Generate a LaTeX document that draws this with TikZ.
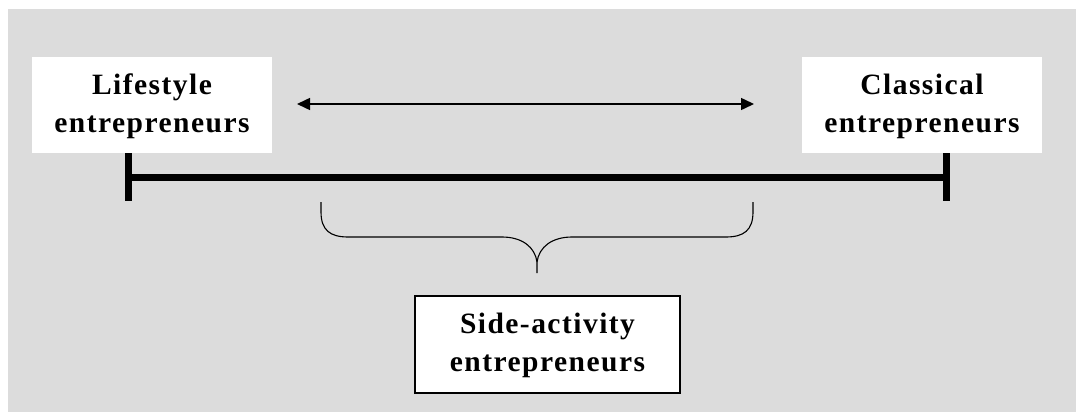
\documentclass[tikz,border=0pt]{standalone}
\usepackage{fontspec}
\setmainfont{Liberation Serif}
\newfontfamily\boxfont[LetterSpace=5,BoldFont={Liberation Serif Bold}]{Liberation Serif}
\usetikzlibrary{arrows.meta}
\definecolor{bg}{HTML}{DCDCDC}
\begin{document}
\begin{tikzpicture}[x=1pt,y=-1pt,
  label/.style={font=\boxfont\bfseries\fontsize{29.5}{38}\selectfont, align=center, inner sep=0pt},
  whitebox/.style={fill=white, draw=none},
  framebox/.style={fill=white, draw=black, line width=1.2pt},
  bar/.style={line width=7pt},
  tick/.style={line width=7pt},
  dbl/.style={line width=1.5pt, {Triangle[length=13pt,width=12pt]}-{Triangle[length=13pt,width=12pt]}},
  brace/.style={line width=1.1pt}]
\useasboundingbox (0,0) rectangle (1076,412);
\fill[white] (0,0) rectangle (1076,412);
\fill[bg] (8,9) rectangle (1076,412);
% boxes
\fill[whitebox] (32,57) rectangle (272,153);
\node[label] (life) at (152,106) {Lifestyle\\entrepreneurs};
\fill[whitebox] (802,57) rectangle (1042,153);
\node[label] (class) at (922,106) {Classical\\entrepreneurs};
\draw[framebox] (415,296) rectangle (680,393);
\node[label] (side) at (547.5,345.5) {Side-activity\\entrepreneurs};
% arrow
\coordinate (al) at (297,104);
\coordinate (ar) at (754,104);
\draw[dbl] (al) -- (ar);
% bar
\coordinate (bl) at (128,177);
\coordinate (br) at (946,177);
\draw[bar] (bl) -- (br);
\draw[tick] (128,153) -- (128,201);
\draw[tick] (946,153) -- (946,201);
% brace
\coordinate (tipB) at (537,273);
\draw[brace] (321,202) -- (321,212) .. controls (321,230) and (330,237) .. (348,237)
  -- (502,237) .. controls (522,237) and (535,247) .. (537,262) -- (tipB);
\draw[brace] (753,202) -- (753,212) .. controls (753,230) and (744,237) .. (726,237)
  -- (572,237) .. controls (552,237) and (539,247) .. (537,262);
\end{tikzpicture}
\end{document}
